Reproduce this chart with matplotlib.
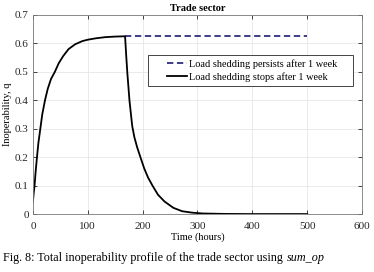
import matplotlib
matplotlib.use('Agg')
import matplotlib.pyplot as plt
from matplotlib.patches import Rectangle

# values
t_rise = [0, 1.5, 3, 5, 7.4, 10, 13.5, 17, 22, 27, 33, 40, 47, 55, 65, 77, 90, 100, 115, 132, 150, 168]
q_rise = [0.044, 0.075, 0.1, 0.15, 0.2, 0.25, 0.3, 0.35, 0.4, 0.44, 0.475, 0.5, 0.53, 0.555, 0.58,
          0.597, 0.608, 0.613, 0.618, 0.622, 0.624, 0.625]
t_fall = [168, 170, 172, 176, 181, 185, 190, 196, 203, 210, 218, 228, 240, 256, 272, 290, 310, 350, 400, 500]
q_fall = [0.625, 0.56, 0.5, 0.4, 0.31, 0.27, 0.235, 0.2, 0.16, 0.128, 0.1, 0.068, 0.044, 0.022, 0.01,
          0.005, 0.002, 0.0005, 0.0, 0.0]
t_persist = [168, 500]
q_persist = [0.625, 0.625]

plt.rcParams['font.family'] = ['Liberation Serif', 'DejaVu Serif']

fig = plt.figure(figsize=(3.74, 2.72), dpi=100)
ax = fig.add_axes([0.088, 0.213, 0.88, 0.732])

ax.plot(t_persist, q_persist, color='#2e2e80', linestyle=(0, (3.5, 2)), linewidth=1.3,
        label='Load shedding persists after 1 week')
ax.plot(t_rise + t_fall[1:], q_rise + q_fall[1:], color='black', linewidth=1.3,
        label='Load shedding stops after 1 week')

ax.set_xlim(0, 600)
ax.set_ylim(0, 0.7)
ax.set_xticks(range(0, 601, 100))
ax.set_yticks([0, 0.1, 0.2, 0.3, 0.4, 0.5, 0.6, 0.7])
ax.set_yticklabels(['0', '0.1', '0.2', '0.3', '0.4', '0.5', '0.6', '0.7'])
ax.tick_params(direction='in', top=True, right=True, length=3, width=0.6,
               labelsize=8, colors='#262626')
ax.tick_params(axis='x', pad=6)
ax.tick_params(axis='y', pad=3)
ax.grid(True, color='#e6e6e6', linewidth=0.6)
for s in ax.spines.values():
    s.set_color('#7a7a7a')
    s.set_linewidth(0.6)

ax.set_title('Trade sector', fontsize=7.5, fontweight='bold', pad=3)
ax.set_xlabel('Time (hours)', fontsize=7.5, labelpad=1)
ax.set_ylabel('Inoperability, q', fontsize=7.5, labelpad=2)

# legend box drawn by hand so the wide left inset matches
ax.add_patch(Rectangle((0.35, 0.643), 0.623, 0.157, transform=ax.transAxes,
                       facecolor='white', edgecolor='#262626', linewidth=0.6, zorder=4))
leg = ax.legend(loc='upper left', bbox_to_anchor=(0.382, 0.82), fontsize=7.4,
                frameon=False, handlelength=2.0, handletextpad=0.2,
                borderpad=0.3, labelspacing=0.35)
leg.set_zorder(5)

cap = fig.text(0.008, 0.03, 'Fig. 8: Total inoperability profile of the trade sector using',
               fontsize=8.7, ha='left', va='bottom')
fig.canvas.draw()
bb = cap.get_window_extent().transformed(fig.transFigure.inverted())
fig.text(bb.x1 + 0.01, 0.03, 'sum_op', fontsize=8.7, style='italic', ha='left', va='bottom')

fig.savefig('out.png', dpi=100)
